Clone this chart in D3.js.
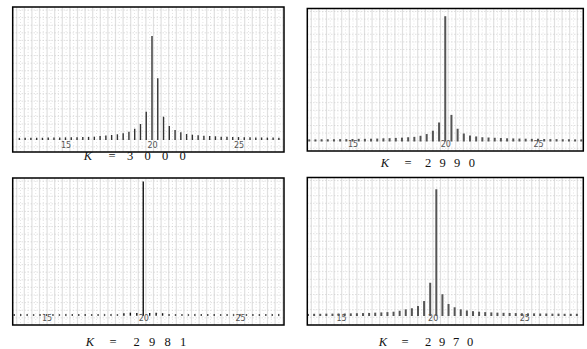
<!DOCTYPE html>
<html>
<head>
<meta charset="utf-8">
<script src="https://cdn.jsdelivr.net/npm/d3@7"></script>
<style>
  body { margin: 0; background: #fff; }
  svg { display: block; }
</style>
</head>
<body>
<svg id="chart" width="587" height="349"></svg>
<script>
// K values shown under each panel
const kLabels = ["3000", "2990", "2981", "2970"];
const tickVals = [15, 20, 25];

// bin position of the tallest line (x units) and index of first bin (1/3 unit steps)
const peakPos = [20, 20, 20, 20.2];
const firstBin = [-23, -22, -20, -21];

// line heights, left to right, as a fraction of the panel height
const amp3000 = [0.016, 0.016, 0.016, 0.017, 0.017, 0.018, 0.018, 0.019, 0.020, 0.020, 0.021,
  0.022, 0.023, 0.025, 0.030, 0.033, 0.038, 0.043, 0.050, 0.062, 0.085, 0.120, 0.213,
  0.782,
  0.464, 0.175, 0.105, 0.075, 0.058, 0.045, 0.040, 0.035, 0.032, 0.030, 0.028, 0.025,
  0.024, 0.023, 0.022, 0.021, 0.020, 0.019, 0.019, 0.018, 0.018, 0.017];
const amp2990 = [0.016, 0.016, 0.017, 0.017, 0.017, 0.018, 0.018, 0.019, 0.020, 0.020, 0.021, 0.022,
  0.024, 0.025, 0.027, 0.029, 0.032, 0.035, 0.043, 0.056, 0.081, 0.143,
  0.942,
  0.200, 0.096, 0.060, 0.045, 0.038, 0.032, 0.030, 0.028, 0.026, 0.024, 0.023, 0.022,
  0.021, 0.020, 0.020, 0.019, 0.018, 0.018, 0.017, 0.017, 0.016, 0.016];
const amp2981 = [0.010, 0.010, 0.010, 0.010, 0.010, 0.010, 0.010, 0.010, 0.010, 0.010,
  0.010, 0.010, 0.010, 0.010, 0.010, 0.010, 0.010,
  0.018, 0.022, 0.020, 0.975, 0.020, 0.022, 0.018,
  0.010, 0.010, 0.010, 0.010, 0.010, 0.010, 0.010, 0.010, 0.010, 0.010,
  0.010, 0.010, 0.010, 0.010, 0.010, 0.010, 0.010, 0.010];
const amp2970 = [0.015, 0.016, 0.016, 0.017, 0.017, 0.018, 0.018, 0.019, 0.020, 0.021, 0.022,
  0.024, 0.026, 0.028, 0.031, 0.038, 0.048, 0.056, 0.072, 0.108, 0.240,
  0.915,
  0.157, 0.087, 0.063, 0.048, 0.040, 0.035, 0.031, 0.028, 0.026, 0.024, 0.023, 0.022,
  0.021, 0.020, 0.019, 0.019, 0.018, 0.018, 0.017, 0.017, 0.016, 0.016, 0.016];
const amps = [amp3000, amp2990, amp2981, amp2970];

// panel layout (pixels)
const panels = [
  {x0: 12.7, x1: 284, y0: 7, y1: 152, base: 140, r15: 65.5, r25: 238.5, lineW: 1.4, color: "#333",
   cap: {y: 160, k: 88, eq: 112, d0: 130, step: 17.5}},
  {x0: 307.3, x1: 583.3, y0: 8.5, y1: 151, base: 141.5, r15: 352.5, r25: 538, lineW: 2, color: "#555",
   cap: {y: 167, k: 385, eq: 408, d0: 428, step: 14.6}},
  {x0: 12.7, x1: 284, y0: 178, y1: 325, base: 315.7, r15: 46.5, r25: 240, lineW: 1.4, color: "#111",
   cap: {y: 346, k: 90, eq: 113, d0: 136.7, step: 15.5}},
  {x0: 307.3, x1: 583.3, y0: 177.5, y1: 325, base: 316, r15: 341, r25: 524.3, lineW: 2, color: "#555",
   cap: {y: 346, k: 383, eq: 405, d0: 428, step: 14}}
];

const svg = d3.select("#chart");

panels.forEach(function (p, i) {
  const g = svg.append("g");

  const xScale = d3.scaleLinear()
    .domain([15, 25])
    .range([p.r15, p.r25]);
  const yScale = d3.scaleLinear()
    .domain([0, 1])
    .range([p.base, p.y0]);

  g.append("rect")
    .attr("x", p.x0).attr("y", p.y0)
    .attr("width", p.x1 - p.x0).attr("height", p.y1 - p.y0)
    .attr("fill", "#fff");

  // background grid
  const gridStep = 7.6;
  g.selectAll(".vgrid")
      .data(d3.range(p.x0 + 4, p.x1, gridStep))
    .enter().append("line")
      .attr("x1", d => d).attr("x2", d => d)
      .attr("y1", p.y0).attr("y2", p.y1)
      .attr("stroke", "#e0e0e0").attr("stroke-width", 1.2);
  g.selectAll(".vdot")
      .data(d3.range(p.x0 + 4 + gridStep / 2, p.x1, gridStep))
    .enter().append("line")
      .attr("x1", d => d).attr("x2", d => d)
      .attr("y1", p.y0).attr("y2", p.y1)
      .attr("stroke", "#d8d8d8").attr("stroke-width", 0.7)
      .attr("stroke-dasharray", "1,2");
  g.selectAll(".hgrid")
      .data(d3.range(p.y0 + 3, p.y1, gridStep))
    .enter().append("line")
      .attr("x1", p.x0).attr("x2", p.x1)
      .attr("y1", d => d).attr("y2", d => d)
      .attr("stroke", "#c8c8c8").attr("stroke-width", 0.8)
      .attr("stroke-dasharray", "1,2");

  // tick labels inside the frame
  const axis = d3.axisBottom(xScale).tickValues(tickVals).tickSize(0).tickPadding(0);
  const ax = g.append("g")
    .attr("transform", "translate(0," + (p.y1 - 10) + ")")
    .call(axis);
  ax.select(".domain").remove();
  ax.selectAll("text")
    .attr("font-family", "DejaVu Sans, sans-serif")
    .attr("font-size", 8)
    .attr("fill", "#555");

  // spectral lines
  const data = amps[i].map(function (v, j) {
    return {x: peakPos[i] + (firstBin[i] + j) / 3, y: v};
  });
  g.selectAll(".bar")
      .data(data)
    .enter().append("line")
      .attr("x1", d => xScale(d.x)).attr("x2", d => xScale(d.x))
      .attr("y1", yScale(0)).attr("y2", d => yScale(d.y))
      .attr("stroke", p.color)
      .attr("stroke-width", p.lineW);

  // frame
  g.append("rect")
    .attr("x", p.x0).attr("y", p.y0)
    .attr("width", p.x1 - p.x0).attr("height", p.y1 - p.y0)
    .attr("fill", "none")
    .attr("stroke", "#000")
    .attr("stroke-width", 1.5);

  // caption  K = d d d d
  const cap = svg.append("g")
    .attr("font-family", "Liberation Serif, Times New Roman, serif")
    .attr("font-size", 12.5)
    .attr("text-anchor", "middle")
    .attr("fill", "#111");
  cap.append("text")
    .attr("x", p.cap.k).attr("y", p.cap.y)
    .attr("font-style", "italic")
    .text("K");
  cap.append("text")
    .attr("x", p.cap.eq).attr("y", p.cap.y)
    .text("=");
  cap.selectAll(".digit")
      .data(kLabels[i].split(""))
    .enter().append("text")
      .attr("x", (d, j) => p.cap.d0 + j * p.cap.step)
      .attr("y", p.cap.y)
      .text(d => d);
});
</script>
</body>
</html>
